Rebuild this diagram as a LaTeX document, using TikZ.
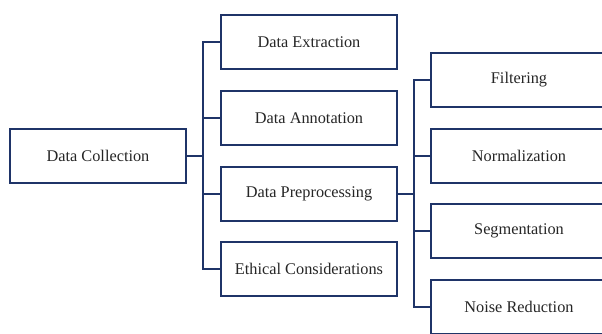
\documentclass[tikz,border=0pt]{standalone}
\usepackage{fontspec}
\setmainfont{Liberation Serif}
\begin{document}
\begin{tikzpicture}[x=1pt,y=-1pt,
  navy/.style={draw=navyblue,line width=2.8pt},
  box/.style={navy,fill=white,minimum width=176pt,minimum height=54pt,inner sep=0pt,
    font=\fontsize{16.3}{19}\selectfont,text=black!85},
  conn/.style={navy,line cap=rect}]
\definecolor{navyblue}{HTML}{1F3468}
\useasboundingbox (0,0) rectangle (602,333);
\fill[white] (0,0) rectangle (602,333);
\node[box] (dc) at (98,156) {Data Collection};
\node[box] (ext) at (309,42) {Data Extraction};
\node[box] (ann) at (309,118) {Data Annotation};
\node[box] (pre) at (309,194) {Data Preprocessing};
\node[box] (eth) at (309,269) {Ethical Considerations};
\node[box] (fil) at (519,80) {Filtering};
\node[box] (nor) at (519,156) {Normalization};
\node[box] (seg) at (519,231) {Segmentation};
\node[box] (noi) at (519,307) {Noise Reduction};
\coordinate (j1) at (203,156);
\coordinate (j2) at (414,194);
\draw[conn] (dc.east) -- (j1);
\draw[conn] (j1 |- ext.west) -- (j1 |- eth.west);
\foreach \n in {ext,ann,pre,eth} \draw[conn] (j1 |- \n.west) -- (\n.west);
\draw[conn] (pre.east) -- (j2);
\draw[conn] (j2 |- fil.west) -- (j2 |- noi.west);
\foreach \n in {fil,nor,seg,noi} \draw[conn] (j2 |- \n.west) -- (\n.west);
\end{tikzpicture}
\end{document}
